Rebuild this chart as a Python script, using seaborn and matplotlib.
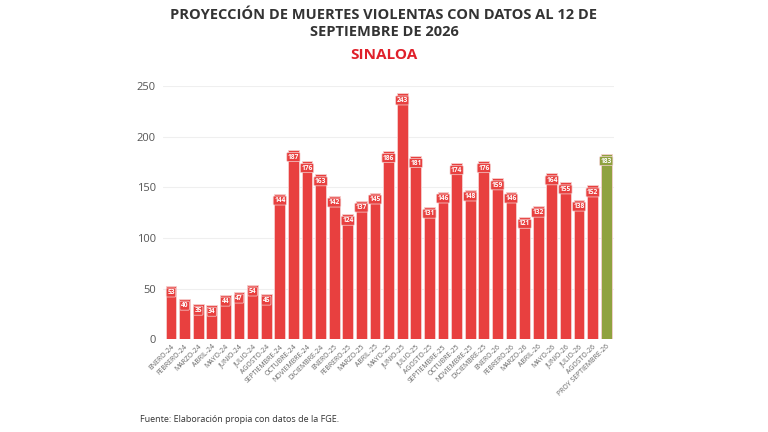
import matplotlib
matplotlib.use("Agg")
import matplotlib.pyplot as plt
import seaborn as sns
import pandas as pd

# data ------------------------------------------------------------------------
meses = ["ENERO-24", "FEBRERO-24", "MARZO-24", "ABRIL-24", "MAYO-24", "JUNIO-24",
         "JULIO-24", "AGOSTO-24", "SEPTIEMBRE-24", "OCTUBRE-24", "NOVIEMBRE-24",
         "DICIEMBRE-24", "ENERO-25", "FEBRERO-25", "MARZO-25", "ABRIL-25", "MAYO-25",
         "JUNIO-25", "JULIO-25", "AGOSTO-25", "SEPTIEMBRE-25", "OCTUBRE-25",
         "NOVIEMBRE-25", "DICIEMBRE-25", "ENERO-26", "FEBRERO-26", "MARZO-26",
         "ABRIL-26", "MAYO-26", "JUNIO-26", "JULIO-26", "AGOSTO-26", "PROY SEPTIEMBRE-26"]
muertes = [53, 40, 35, 34, 44, 47, 54, 45, 144, 187, 176, 163, 142, 124, 137, 145,
           186, 243, 181, 131, 146, 174, 148, 176, 159, 146, 121, 132, 164, 155,
           138, 152, 183]
tipo = ["real"] * 32 + ["proy"]

RED = "#E8403F"
GREEN = "#8FA23F"
palette = {"real": RED, "proy": GREEN}

df = pd.DataFrame({"mes": meses, "muertes": muertes, "tipo": tipo})

sns.set_theme(style="whitegrid")
plt.rcParams["font.family"] = ["Open Sans", "DejaVu Sans"]

fig = plt.figure(figsize=(7.68, 4.32), dpi=100)
ax = fig.add_axes([0.212, 0.215, 0.588, 0.585])

sns.barplot(data=df, x="mes", y="muertes", hue="tipo", palette=palette,
            dodge=False, legend=False, width=0.8, saturation=1, ax=ax,
            edgecolor="#F6CFCF", linewidth=0.6)

for p, v, t in zip(ax.patches, muertes, tipo):
    col = palette[t]
    ax.annotate(str(v), (p.get_x() + p.get_width() / 2, p.get_height()),
                xytext=(0, -2.5), textcoords="offset points",
                ha="center", va="top", fontsize=4.8, color="white", fontweight="bold",
                bbox=dict(boxstyle="round,pad=0.15", fc=col, ec="#F4D4D4", lw=0.5))

ax.set_ylim(0, 250)
ax.set_yticks([0, 50, 100, 150, 200, 250])
ax.set_xlim(-0.6, len(meses) - 0.4)
ax.set_xlabel("")
ax.set_ylabel("")
ax.grid(axis="x", visible=False)
ax.grid(axis="y", color="#EFEFEF", lw=0.8)
for s in ax.spines.values():
    s.set_visible(False)
ax.tick_params(axis="y", labelsize=8, colors="#555555", pad=5, length=0)
ax.tick_params(axis="x", labelsize=5, colors="#666666", length=0, pad=3)
plt.setp(ax.get_xticklabels(), rotation=45, ha="right", rotation_mode="anchor")

fig.text(0.5, 0.982, "PROYECCIÓN DE MUERTES VIOLENTAS CON DATOS AL 12 DE\nSEPTIEMBRE DE 2026",
         ha="center", va="top", fontsize=10.5, fontweight="bold", color="#333333",
         linespacing=1.25)
fig.text(0.5, 0.89, "SINALOA", ha="center", va="top", fontsize=11,
         fontweight="bold", color="#E0202A")
fig.text(0.182, 0.03, "Fuente: Elaboración propia con datos de la FGE.",
         ha="left", va="center", fontsize=6.5, color="#333333")

fig.savefig("out.png", dpi=100, facecolor="white")
